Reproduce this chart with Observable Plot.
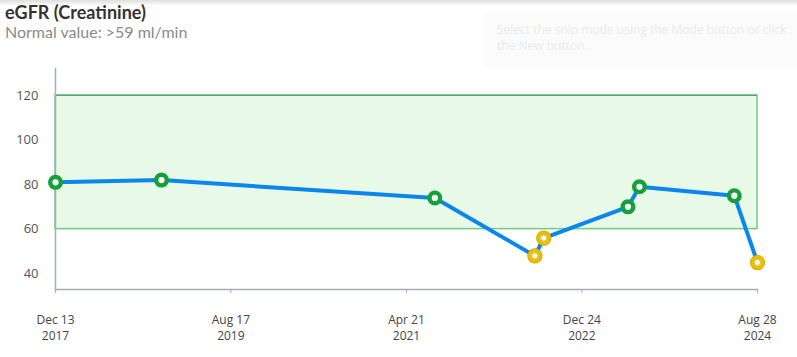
<!DOCTYPE html>
<html>
<head>
<meta charset="utf-8">
<script src="https://cdn.jsdelivr.net/npm/d3@7"></script>
<script src="https://cdn.jsdelivr.net/npm/@observablehq/plot@0.6"></script>
<style>
  html, body { margin: 0; padding: 0; background: #fff; width: 797px; height: 357px; overflow: hidden; }
  #topshade { position: absolute; left: 0; top: 0; width: 797px; height: 6px;
    background: linear-gradient(rgba(0,0,0,0.13), rgba(0,0,0,0)); }
  #snip { position: absolute; left: 486px; top: 14px; width: 311px; height: 52px; background: #fbfbfb;
    box-shadow: 0 0 6px rgba(0,0,0,0.04); font-family: "Open Sans", sans-serif; font-size: 12px; color: #ebebeb;
    line-height: 16px; padding: 8px 0 0 11px; box-sizing: border-box; white-space: nowrap; }
  #header { height: 48px; padding-left: 5px; font-family: "Lato", "Noto Sans", sans-serif; }
  #title { font-size: 18px; font-weight: 700; color: #333; line-height: 22px; padding-top: 1px; }
  #subtitle { font-size: 16px; color: #8a8a8a; line-height: 18px; }
</style>
</head>
<body>
<div id="topshade"></div>
<div id="snip">Select the snip mode using the Mode button or click<br>the New button.</div>
<div id="header">
  <div id="title">eGFR (Creatinine)</div>
  <div id="subtitle">Normal value: &gt;59 ml/min</div>
</div>
<div id="chart"></div>
<script>
// Data
const dates = ["2017-12-13", "2018-12-18", "2021-07-29", "2022-07-13", "2022-08-13", "2023-06-03", "2023-07-13", "2024-06-08", "2024-08-28"];
const values = [81, 82, 74, 48, 56, 70, 79, 75, 45];
const statuses = ["normal", "normal", "normal", "low", "low", "normal", "normal", "normal", "low"];
const normalRange = [60, 120];
const tickDates = ["2017-12-13", "2019-08-17", "2021-04-21", "2022-12-24", "2024-08-28"];
const tickLabels = ["Dec 13\n2017", "Aug 17\n2019", "Apr 21\n2021", "Dec 24\n2022", "Aug 28\n2024"];
const yTicks = [40, 60, 80, 100, 120];

const data = dates.map((d, i) => ({date: new Date(d), value: values[i], status: statuses[i]}));
const ticks = tickDates.map((d, i) => ({date: new Date(d), label: tickLabels[i]}));
const x0 = data[0].date, x1 = data[data.length - 1].date;
const low = data.filter(d => d.status === "low");
const norm = data.filter(d => d.status === "normal");

const chart = Plot.plot({
  width: 797,
  height: 309,
  marginLeft: 55,
  marginRight: 40,
  marginTop: 20,
  marginBottom: 68,
  style: {fontFamily: "'Open Sans', sans-serif", fontSize: "12.5px", color: "#444", background: "#fff", overflow: "visible"},
  x: {type: "utc", domain: [x0, x1]},
  y: {domain: [32.9, 132.1]},
  marks: [
    Plot.rect([{x1: x0, x2: x1, y1: normalRange[0], y2: normalRange[1]}],
      {x1: "x1", x2: "x2", y1: "y1", y2: "y2", fill: "#e8f9e7", stroke: "#74c985", strokeWidth: 1.5}),
    Plot.ruleY([normalRange[1]], {stroke: "#5aa66c", strokeWidth: 1.2}),
    Plot.frame({anchor: "left", stroke: "#a3afb9", strokeWidth: 1.5}),
    Plot.frame({anchor: "bottom", stroke: "#a3afb9", strokeWidth: 1.5}),
    Plot.axisY({ticks: yTicks, tickSize: 0, tickPadding: 17, label: null, fill: "#555", fontSize: 13}),
    Plot.axisX({ticks: ticks.map(t => t.date), tickSize: 4, label: null, stroke: "#a3afb9", text: null, tickFormat: null}),
    Plot.text(ticks, {x: "date", text: "label", frameAnchor: "bottom", lineAnchor: "middle", lineHeight: 1.38,
      dy: 37, fill: "#444", fontSize: 12}),
    Plot.line(data, {x: "date", y: "value", stroke: "#0a86ec", strokeWidth: 4, strokeLinejoin: "round"}),
    Plot.dot(low, {x: "date", y: "value", r: 7.6, fill: "#c9a100", stroke: "none"}),
    Plot.dot(low, {x: "date", y: "value", r: 5.2, fill: "#fff", stroke: "#e9bf00", strokeWidth: 3.6}),
    Plot.dot(low, {x: "date", y: "value", r: 3.1, fill: "#fff", stroke: "#d2a800", strokeWidth: 0.8}),
    Plot.dot(norm, {x: "date", y: "value", r: 5.3, fill: "#fff", stroke: "#16a03c", strokeWidth: 4.4})
  ]
});
document.getElementById("chart").appendChild(chart);
</script>
</body>
</html>
